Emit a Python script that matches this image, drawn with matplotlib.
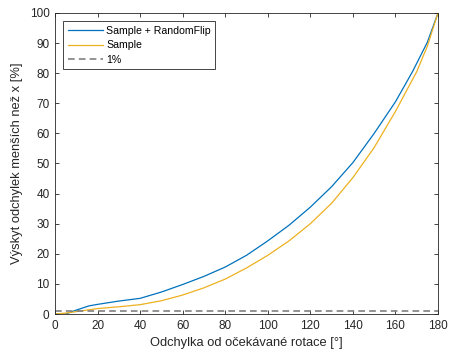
import matplotlib
matplotlib.use('Agg')
from matplotlib import pyplot as plt

# Values.
deg_flip = [0, 5, 10, 16, 20, 30, 40, 50, 60, 70, 80, 90, 100, 110, 120,
            130, 140, 150, 160, 168, 175, 180]
pct_flip = [0, 0, 1.3, 2.7, 3.2, 4.3, 5.2, 7.3, 9.8, 12.5, 15.6, 19.5, 24.3,
            29.5, 35.5, 42.3, 50.3, 60, 70.5, 80.5, 90.3, 100]
deg_sample = [0, 5, 10, 16, 20, 30, 40, 50, 60, 70, 80, 90, 100, 110, 120,
              130, 140, 150, 160, 170, 175, 180]
pct_sample = [0, 0.3, 0.8, 1.4, 1.8, 2.4, 3.1, 4.4, 6.3, 8.7, 11.6, 15.3,
              19.5, 24.3, 30, 36.8, 45.3, 55.3, 67.3, 80.5, 89, 100]
threshold = 1

plt.rcParams['font.family'] = ['Liberation Sans', 'DejaVu Sans']
dark = '#262626'

fig = plt.figure(figsize=(4.49, 3.58), dpi=100)
ax = fig.add_axes([0.1225, 0.1229, 0.853, 0.8408])
ax.plot(deg_flip, pct_flip, c='#0072BD', lw=0.9, label='Sample + RandomFlip')
ax.plot(deg_sample, pct_sample, c='#EDB120', lw=0.9, label='Sample')
ax.axhline(threshold, c='#808080', ls=(0, (4, 2.5)), lw=1.2, label='1%')

ax.set_xlim(0, 180)
ax.set_ylim(0, 100)
ax.set_xticks(range(0, 181, 20))
ax.set_yticks(range(0, 101, 10))
ax.tick_params(direction='in', top=True, right=True, length=3, width=0.6,
               labelsize=8.5, colors=dark, pad=4)
for s in ax.spines.values():
    s.set_color(dark)
    s.set_linewidth(0.6)

ax.set_xlabel('Odchylka od očekávané rotace [°]', fontsize=9.3, color=dark,
              labelpad=4)
ax.set_ylabel('Výskyt odchylek menších než x [%]', fontsize=9.3, color=dark,
              labelpad=5)

leg = ax.legend(loc='upper left', fontsize=7.6, fancybox=False,
                framealpha=1, edgecolor=dark, handlelength=3.3,
                borderaxespad=0.8, labelspacing=0.45, borderpad=0.4,
                handletextpad=0.35)
leg.get_frame().set_linewidth(0.6)

fig.savefig('out.png', dpi=100)
